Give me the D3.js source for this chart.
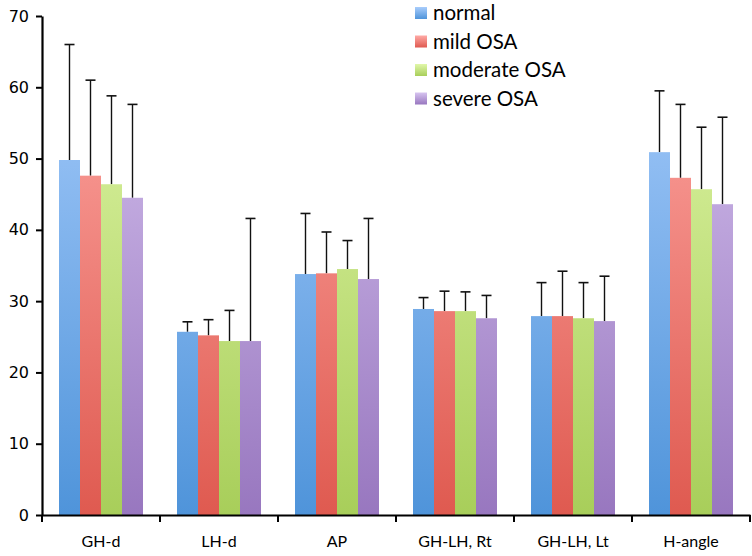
<!DOCTYPE html>
<html><head><meta charset="utf-8">
<script src="https://cdn.jsdelivr.net/npm/d3@7"></script>
<style>body{margin:0;background:#fff}svg{display:block}</style>
</head><body><svg id="c" width="752" height="556"></svg>
<script>
const categories = ["GH-d","LH-d","AP","GH-LH, Rt","GH-LH, Lt","H-angle"];
const seriesNames = ["normal","mild OSA","moderate OSA","severe OSA"];
const normalVals   = [49.8,25.7,33.8,28.9,27.9,50.9];
const normalErr    = [66.0,27.1,42.3,30.5,32.6,59.5];
const mildVals     = [47.6,25.2,33.9,28.6,27.9,47.3];
const mildErr      = [61.0,27.4,39.7,31.4,34.2,57.6];
const moderateVals = [46.4,24.4,34.5,28.6,27.6,45.7];
const moderateErr  = [58.8,28.7,38.5,31.3,32.6,54.4];
const severeVals   = [44.5,24.4,33.1,27.6,27.2,43.6];
const severeErr    = [57.6,41.6,41.6,30.8,33.5,55.8];
const yTicks = [0,10,20,30,40,50,60,70];

const values = [normalVals, mildVals, moderateVals, severeVals];
const errs = [normalErr, mildErr, moderateErr, severeErr];
const gradTop = ["#a9cdfc","#ffaaa6","#e1f7aa","#d7c4f0"];
const gradBot = ["#4f94da","#df5a50","#a8ce5a","#9877bf"];

const svg = d3.select("#c");
const L = 42, R = 750, T = 16, B = 515;
const x = d3.scaleBand().domain(categories).range([L, R]);
const xs = d3.scaleBand().domain(d3.range(4)).range([0, 84]);
const y = d3.scaleLinear().domain([0,70]).range([B, T]);

const defs = svg.append("defs");
seriesNames.forEach((s,i)=>{
  const g = defs.append("linearGradient").attr("id","g"+i)
    .attr("gradientUnits","userSpaceOnUse").attr("x1",0).attr("x2",0)
    .attr("y1",y(70)).attr("y2",B);
  g.append("stop").attr("offset","0%").attr("stop-color",gradTop[i]);
  g.append("stop").attr("offset","100%").attr("stop-color",gradBot[i]);
  const lg = defs.append("linearGradient").attr("id","lg"+i)
    .attr("x1",0).attr("x2",0).attr("y1",0).attr("y2",1);
  lg.append("stop").attr("offset","0%").attr("stop-color",gradTop[i]);
  lg.append("stop").attr("offset","100%").attr("stop-color",gradBot[i]);
});

// error bars
const off = (x.bandwidth()-84)/2;
categories.forEach((c,ci)=>{
  values.forEach((vals,si)=>{
    const cx = x(c)+off+xs(si)+xs.bandwidth()/2;
    svg.append("line").attr("x1",cx).attr("x2",cx)
      .attr("y1",y(vals[ci])).attr("y2",y(errs[si][ci]))
      .attr("stroke","#111").attr("stroke-width",1.4);
    svg.append("line").attr("x1",cx-5).attr("x2",cx+5)
      .attr("y1",y(errs[si][ci])).attr("y2",y(errs[si][ci]))
      .attr("stroke","#111").attr("stroke-width",1.6);
  });
});
// bars
categories.forEach((c,ci)=>{
  values.forEach((vals,si)=>{
    svg.append("rect")
      .attr("x",x(c)+off+xs(si)).attr("width",xs.bandwidth())
      .attr("y",y(vals[ci])).attr("height",B-y(vals[ci]))
      .attr("fill","url(#g"+si+")");
  });
});

// y axis
const ya = svg.append("g").attr("transform",`translate(${L},0)`)
  .call(d3.axisLeft(y).tickValues(yTicks).tickSize(6).tickSizeOuter(0).tickPadding(7));
ya.select(".domain").attr("stroke","#000").attr("stroke-width",2.2);
ya.selectAll(".tick line").attr("stroke","#000").attr("stroke-width",2);
ya.selectAll("text").attr("font-family","DejaVu Sans, Verdana, sans-serif").attr("font-size",16).attr("fill","#000");

// x axis
const xa = svg.append("g").attr("transform",`translate(0,${B})`)
  .call(d3.axisBottom(x).tickSize(0).tickSizeOuter(0).tickPadding(21));
xa.select(".domain").attr("stroke","#000").attr("stroke-width",2.2);
xa.selectAll("text").attr("font-family","Lato, 'Open Sans', sans-serif").attr("font-size",16).attr("fill","#000");
const bounds = categories.map(c=>x(c)).concat([R]);
svg.append("g").selectAll("line").data(bounds).join("line")
  .attr("x1",d=>d).attr("x2",d=>d).attr("y1",B).attr("y2",B+7)
  .attr("stroke","#000").attr("stroke-width",2);

// legend
const lg = svg.append("g");
seriesNames.forEach((s,i)=>{
  const yy = 13 + i*28.5;
  lg.append("rect").attr("x",415).attr("y",yy-6).attr("width",12).attr("height",12)
    .attr("fill","url(#lg"+i+")");
  lg.append("text").attr("x",433).attr("y",yy).attr("dy","0.35em")
    .attr("font-family","Lato, 'Open Sans', sans-serif").attr("font-size",20.5)
    .attr("fill","#000").text(s);
});
</script></body></html>
